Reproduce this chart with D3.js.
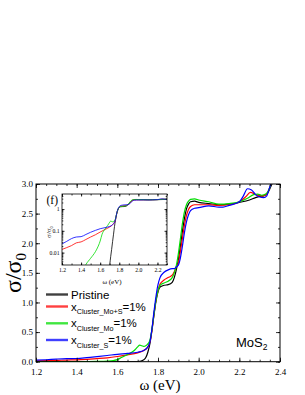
<!DOCTYPE html>
<html><head><meta charset="utf-8">
<script src="https://cdn.jsdelivr.net/npm/d3@7"></script>
<style>body{margin:0;background:#fff}svg{display:block}</style>
</head><body>
<svg id="c" width="305" height="395"></svg>
<script>
// ---- data: [omega (eV), sigma/sigma0] ----
const pristine = [[1.2,0.0001],[1.4,0.0002],[1.6,0.0005],[1.69,0.0015],[1.70,0.0028],[1.71,0.0065],[1.72,0.014],[1.73,0.032],[1.74,0.07],[1.75,0.16],[1.76,0.3],[1.77,0.52],[1.78,0.78],[1.79,1.02],[1.80,1.18],[1.81,1.26],[1.83,1.29],[1.85,1.3],[1.87,1.34],[1.88,1.42],[1.89,1.55],[1.90,1.72],[1.91,1.95],[1.92,2.2],[1.93,2.42],[1.94,2.58],[1.95,2.66],[1.96,2.7],[1.98,2.71],[2.0,2.69],[2.05,2.67],[2.1,2.65],[2.15,2.66],[2.2,2.69],[2.25,2.73],[2.28,2.77],[2.3,2.79],[2.32,2.8],[2.34,2.85],[2.35,2.92],[2.36,3.0],[2.37,3.1]];
const clusterMoS = [[1.2,0.014],[1.25,0.017],[1.3,0.021],[1.35,0.028],[1.4,0.031],[1.45,0.04],[1.5,0.052],[1.55,0.066],[1.6,0.088],[1.65,0.115],[1.7,0.15],[1.73,0.19],[1.75,0.25],[1.76,0.33],[1.77,0.53],[1.78,0.8],[1.79,1.04],[1.80,1.2],[1.81,1.31],[1.83,1.38],[1.85,1.42],[1.87,1.46],[1.88,1.52],[1.89,1.6],[1.90,1.66],[1.91,1.86],[1.92,2.08],[1.93,2.3],[1.94,2.47],[1.95,2.57],[1.96,2.62],[1.98,2.65],[2.0,2.65],[2.05,2.65],[2.1,2.64],[2.15,2.65],[2.2,2.7],[2.23,2.78],[2.255,2.86],[2.28,2.82],[2.31,2.8],[2.33,2.82],[2.345,2.9],[2.355,3.0],[2.365,3.1]];
const clusterMo = [[1.2,0.0001],[1.4,0.0009],[1.45,0.0028],[1.5,0.0055],[1.55,0.011],[1.58,0.02],[1.6,0.034],[1.62,0.07],[1.65,0.12],[1.68,0.18],[1.7,0.25],[1.71,0.28],[1.72,0.27],[1.73,0.26],[1.74,0.27],[1.75,0.3],[1.76,0.36],[1.77,0.55],[1.78,0.8],[1.79,1.04],[1.80,1.2],[1.81,1.29],[1.83,1.33],[1.85,1.36],[1.87,1.42],[1.88,1.5],[1.89,1.62],[1.90,1.82],[1.91,2.07],[1.92,2.33],[1.93,2.53],[1.94,2.65],[1.95,2.71],[1.96,2.74],[1.98,2.75],[2.0,2.73],[2.05,2.7],[2.1,2.66],[2.15,2.67],[2.2,2.7],[2.24,2.76],[2.27,2.82],[2.29,2.83],[2.31,2.81],[2.33,2.83],[2.345,2.9],[2.355,3.0],[2.365,3.1]];
const clusterS = [[1.2,0.025],[1.25,0.033],[1.3,0.044],[1.35,0.052],[1.4,0.054],[1.45,0.068],[1.5,0.086],[1.55,0.105],[1.6,0.125],[1.65,0.14],[1.7,0.16],[1.73,0.19],[1.75,0.25],[1.76,0.33],[1.77,0.55],[1.78,0.84],[1.79,1.1],[1.80,1.3],[1.81,1.42],[1.83,1.51],[1.85,1.55],[1.87,1.57],[1.88,1.57],[1.89,1.6],[1.90,1.63],[1.91,1.75],[1.92,1.95],[1.93,2.18],[1.94,2.36],[1.95,2.48],[1.96,2.55],[1.98,2.59],[2.0,2.6],[2.05,2.63],[2.1,2.61],[2.12,2.61],[2.15,2.64],[2.2,2.7],[2.22,2.8],[2.24,2.92],[2.26,2.9],[2.28,2.82],[2.3,2.78],[2.32,2.77],[2.335,2.8],[2.345,2.9],[2.355,3.0],[2.365,3.1]];

const seriesData = [pristine, clusterMoS, clusterMo, clusterS];
const seriesColors = ["#000000", "#ff0000", "#00dd00", "#0000ff"];
const legendMain = ["Pristine", "x", "x", "x"];
const legendSub = ["", "Cluster_Mo+S", "Cluster_Mo", "Cluster_S"];
const legendTail = ["", "=1%", "=1%", "=1%"];

const xTicksMain = [1.2, 1.4, 1.6, 1.8, 2.0, 2.2, 2.4];
const yTicksMain = [0.0, 0.5, 1.0, 1.5, 2.0, 2.5, 3.0];
const xTicksInset = [1.2, 1.4, 1.6, 1.8, 2.0, 2.2];
const yTicksInset = [0.01, 0.1, 1];
const yTickLabelsInset = ["0.01", "0.1", "1"];

// ---- layout ----
const svg = d3.select("#c");
const M = {l: 36, r: 280, t: 184, b: 361.7};
const I = {l: 62, r: 167, t: 194, b: 265};
const serif = "'Liberation Serif','Times New Roman',serif";
const sans = "'Liberation Sans',Arial,sans-serif";

const x = d3.scaleLinear().domain([1.2, 2.4]).range([M.l, M.r]);
const y = d3.scaleLinear().domain([0, 3]).range([M.b, M.t]);

const defs = svg.append("defs");
defs.append("clipPath").attr("id", "clipMain").append("rect")
  .attr("x", M.l).attr("y", M.t).attr("width", M.r - M.l).attr("height", M.b - M.t);
defs.append("clipPath").attr("id", "clipInset").append("rect")
  .attr("x", I.l).attr("y", I.t).attr("width", I.r - I.l).attr("height", I.b - I.t);

function styleAxis(g, fs) {
  g.select(".domain").remove();
  g.selectAll("line").attr("stroke", "#000").attr("stroke-width", 0.8);
  g.selectAll("text").attr("font-family", serif).attr("font-size", fs).attr("fill", "#000");
}

// main curves
const line = d3.line().x(d => x(d[0])).y(d => y(d[1])).curve(d3.curveMonotoneX);
const gMain = svg.append("g").attr("clip-path", "url(#clipMain)");
seriesData.forEach((s, i) => {
  gMain.append("path").datum(s).attr("d", line).attr("fill", "none")
    .attr("stroke", seriesColors[i]).attr("stroke-width", 1.2);
});

// main axes
const xMinor = d3.range(1.2, 2.4001, 0.05);
const yMinor = d3.range(0, 3.0001, 0.25);
svg.append("g").attr("transform", `translate(0,${M.b})`)
  .call(d3.axisBottom(x).tickValues(xMinor).tickSize(-2).tickFormat("")).call(g => styleAxis(g, 9));
svg.append("g").attr("transform", `translate(0,${M.b})`)
  .call(d3.axisBottom(x).tickValues(xTicksMain).tickSize(-4).tickPadding(7).tickFormat(d3.format(".1f"))).call(g => styleAxis(g, 9));
svg.append("g").attr("transform", `translate(0,${M.t})`)
  .call(d3.axisTop(x).tickValues(xMinor).tickSize(-2).tickFormat("")).call(g => styleAxis(g, 9));
svg.append("g").attr("transform", `translate(0,${M.t})`)
  .call(d3.axisTop(x).tickValues(xTicksMain).tickSize(-4).tickFormat("")).call(g => styleAxis(g, 9));
svg.append("g").attr("transform", `translate(${M.l},0)`)
  .call(d3.axisLeft(y).tickValues(yMinor).tickSize(-2).tickFormat("")).call(g => styleAxis(g, 9));
svg.append("g").attr("transform", `translate(${M.l},0)`)
  .call(d3.axisLeft(y).tickValues(yTicksMain).tickSize(-4).tickPadding(3).tickFormat(d3.format(".1f"))).call(g => styleAxis(g, 9));
svg.append("g").attr("transform", `translate(${M.r},0)`)
  .call(d3.axisRight(y).tickValues(yMinor).tickSize(-2).tickFormat("")).call(g => styleAxis(g, 9));
svg.append("g").attr("transform", `translate(${M.r},0)`)
  .call(d3.axisRight(y).tickValues(yTicksMain).tickSize(-4).tickFormat("")).call(g => styleAxis(g, 9));
svg.append("rect").attr("x", M.l).attr("y", M.t).attr("width", M.r - M.l).attr("height", M.b - M.t)
  .attr("fill", "none").attr("stroke", "#000").attr("stroke-width", 1);

// axis titles
svg.append("text").attr("x", 160).attr("y", 390).attr("text-anchor", "middle")
  .attr("font-family", serif).attr("font-size", 15).text("ω (eV)");
const yl = svg.append("text").attr("transform", "translate(21,273) rotate(-90)")
  .attr("text-anchor", "middle").attr("font-family", serif).attr("font-size", 24);
yl.append("tspan").text("σ/σ");
yl.append("tspan").attr("font-size", 15).attr("dy", 5).text("0");

// MoS2 label
const ml = svg.append("text").attr("x", 236).attr("y", 347).attr("font-family", sans).attr("font-size", 13);
ml.append("tspan").text("MoS");
ml.append("tspan").attr("font-size", 8.5).attr("dy", 3).text("2");

// legend
const legY = [294.5, 306.5, 323.3, 340];
legendMain.forEach((t, i) => {
  svg.append("line").attr("x1", 46).attr("x2", 68).attr("y1", legY[i]).attr("y2", legY[i])
    .attr("stroke", seriesColors[i]).attr("stroke-width", 2.4).attr("stroke-opacity", 0.75);
  const tx = svg.append("text").attr("x", 71).attr("y", legY[i] + 4).attr("font-family", sans).attr("font-size", 11.5);
  tx.append("tspan").text(t);
  if (legendSub[i]) {
    tx.append("tspan").attr("font-size", 7.2).attr("dy", 3.5).text(legendSub[i]);
    tx.append("tspan").attr("dy", -3.5).text(legendTail[i]);
  }
});

// ---- inset ----
const xi = d3.scaleLinear().domain([1.2, 2.3]).range([I.l, I.r]);
const yi = d3.scaleLog().domain([0.0027, 4.9]).range([I.b, I.t]);
svg.append("rect").attr("x", I.l).attr("y", I.t).attr("width", I.r - I.l).attr("height", I.b - I.t).attr("fill", "#fff");
const lineI = d3.line().x(d => xi(d[0])).y(d => yi(Math.max(d[1], 1e-6))).curve(d3.curveMonotoneX);
const gIn = svg.append("g").attr("clip-path", "url(#clipInset)");
seriesData.forEach((s, i) => {
  gIn.append("path").datum(s).attr("d", lineI).attr("fill", "none")
    .attr("stroke", seriesColors[i]).attr("stroke-width", 0.8);
});
const xiMinor = d3.range(1.2, 2.3001, 0.1);
const yiMinor = [];
[0.001, 0.01, 0.1, 1].forEach(dec => { for (let k = 1; k <= 9; k++) { const v = dec * k; if (v >= 0.0027 && v <= 4.9) yiMinor.push(v); } });
svg.append("g").attr("transform", `translate(0,${I.b})`)
  .call(d3.axisBottom(xi).tickValues(xiMinor).tickSize(-1.5).tickFormat("")).call(g => styleAxis(g, 5.7));
svg.append("g").attr("transform", `translate(0,${I.b})`)
  .call(d3.axisBottom(xi).tickValues(xTicksInset).tickSize(-2.5).tickPadding(2.6).tickFormat(d3.format(".1f"))).call(g => styleAxis(g, 5.7));
svg.append("g").attr("transform", `translate(0,${I.t})`)
  .call(d3.axisTop(xi).tickValues(xiMinor).tickSize(-1.5).tickFormat("")).call(g => styleAxis(g, 5.7));
svg.append("g").attr("transform", `translate(0,${I.t})`)
  .call(d3.axisTop(xi).tickValues(xTicksInset).tickSize(-2.5).tickFormat("")).call(g => styleAxis(g, 5.7));
svg.append("g").attr("transform", `translate(${I.l},0)`)
  .call(d3.axisLeft(yi).tickValues(yiMinor).tickSize(-1.3).tickFormat("")).call(g => styleAxis(g, 5.7));
svg.append("g").attr("transform", `translate(${I.l},0)`)
  .call(d3.axisLeft(yi).tickValues(yTicksInset).tickSize(-2.5).tickPadding(2.5).tickFormat((d, i) => yTickLabelsInset[i])).call(g => styleAxis(g, 5.7));
svg.append("g").attr("transform", `translate(${I.r},0)`)
  .call(d3.axisRight(yi).tickValues(yiMinor).tickSize(-1.3).tickFormat("")).call(g => styleAxis(g, 5.7));
svg.append("g").attr("transform", `translate(${I.r},0)`)
  .call(d3.axisRight(yi).tickValues(yTicksInset).tickSize(-2.5).tickFormat("")).call(g => styleAxis(g, 5.7));
svg.append("rect").attr("x", I.l).attr("y", I.t).attr("width", I.r - I.l).attr("height", I.b - I.t)
  .attr("fill", "none").attr("stroke", "#000").attr("stroke-width", 0.8);
svg.append("text").attr("x", 112).attr("y", 283.5).attr("text-anchor", "middle")
  .attr("font-family", serif).attr("font-size", 7).text("ω (eV)");
const yil = svg.append("text").attr("transform", "translate(51,232) rotate(-90)")
  .attr("text-anchor", "middle").attr("font-family", serif).attr("font-size", 7);
yil.append("tspan").text("σ/σ");
yil.append("tspan").attr("font-size", 4.5).attr("dy", 1.5).text("0");
svg.append("text").attr("x", 46.5).attr("y", 204).attr("font-family", serif).attr("font-size", 11.5).text("(f)");
</script>
</body></html>
